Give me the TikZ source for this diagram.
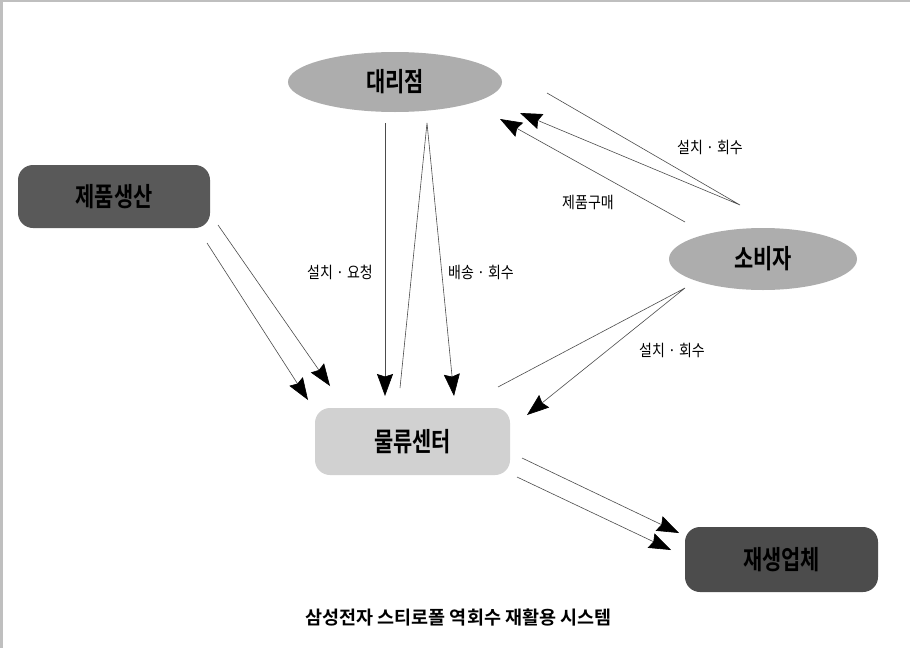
\documentclass[tikz,border=0pt]{standalone}
\usepackage{fontspec}
\usepackage{graphicx}
\setmainfont{Noto Sans CJK KR}
\newfontfamily\kr{Noto Sans CJK KR}
\newfontfamily\krb{Noto Sans CJK KR Bold}
\usetikzlibrary{shapes.geometric,arrows.meta}
\newcommand{\tallt}[1]{\scalebox{0.95}[1.2]{#1}}
\begin{document}
\begin{tikzpicture}[x=1pt,y=-1pt,
  nodetext/.style={font=\krb\fontsize{22}{24}\selectfont, text=black, inner sep=0pt},
  ellnode/.style={nodetext, ellipse, draw=none},
  boxnode/.style={nodetext, rectangle, rounded corners=15pt, draw=none},
  conn/.style={draw=black!70, line width=0.6pt},
  arr/.style={conn, -{Stealth[length=22pt,width=16pt,inset=2.5pt,black]}},
  lbl/.style={font=\kr\fontsize{14}{16}\selectfont, inner sep=0pt}]
\useasboundingbox (0,0) rectangle (910,648);
\fill[white] (0,0) rectangle (910,648);
\draw[black!25, line width=2pt] (0,1) -- (910,1);
\draw[black!25, line width=3pt] (1.5,0) -- (1.5,648);

% nodes
\node[ellnode, fill=black!32, minimum width=214pt, minimum height=60pt] (dl) at (395,82) {\tallt{대리점}};
\node[boxnode, fill=black!65, minimum width=192pt, minimum height=63pt] (jp) at (114,196.5) {\tallt{제품생산}};
\node[ellnode, fill=black!32, minimum width=188pt, minimum height=62pt] (sb) at (763,259) {\tallt{소비자}};
\node[boxnode, fill=black!18, minimum width=195pt, minimum height=67pt] (mr) at (412.5,441.5) {\tallt{물류센터}};
\node[boxnode, fill=black!70, minimum width=193pt, minimum height=65pt] (js) at (781.5,559.5) {\tallt{재생업체}};

% connector end points
\coordinate (p1s) at (218,225);  \coordinate (p1e) at (330,386);
\coordinate (p2s) at (207,243);  \coordinate (p2e) at (308,400);
\coordinate (v1s) at (385,123);  \coordinate (v1e) at (385,396);
\coordinate (v2s) at (400,388);  \coordinate (v2a) at (427,123);  \coordinate (v2e) at (454,396);
\coordinate (c1s) at (547,93);   \coordinate (c1a) at (740,205);  \coordinate (c1e) at (520,113);
\coordinate (c2s) at (685,222);  \coordinate (c2e) at (500,119);
\coordinate (d1s) at (498,387);  \coordinate (d1a) at (685,288);  \coordinate (d1e) at (527,415);
\coordinate (r1s) at (522,458);  \coordinate (r1e) at (679,533);
\coordinate (r2s) at (517,477);  \coordinate (r2e) at (671,550);

% connectors
\draw[arr] (p1s) -- (p1e);
\draw[arr] (p2s) -- (p2e);
\draw[arr] (v1s) -- (v1e);
\draw[arr] (v2s) -- (v2a) -- (v2e);
\draw[arr] (c1s) -- (c1a) -- (c1e);
\draw[arr] (c2s) -- (c2e);
\draw[arr] (d1s) -- (d1a) -- (d1e);
\draw[arr] (r1s) -- (r1e);
\draw[arr] (r2s) -- (r2e);

% labels
\node[lbl] (l1) at (710,147) {\scalebox{1}[1.15]{설치 · 회수}};
\node[lbl] (l2) at (588,202) {\scalebox{1}[1.15]{제품구매}};
\node[lbl] (l3) at (340,272) {\scalebox{1}[1.15]{설치 · 요청}};
\node[lbl] (l4) at (481,272) {\scalebox{1}[1.15]{배송 · 회수}};
\node[lbl] (l5) at (672,350) {\scalebox{1}[1.15]{설치 · 회수}};

% caption
\node[font=\krb\fontsize{18.5}{20}\selectfont, inner sep=0pt] (cap) at (458.5,618) {삼성전자 스티로폴 역회수 재활용 시스템};
\end{tikzpicture}
\end{document}
